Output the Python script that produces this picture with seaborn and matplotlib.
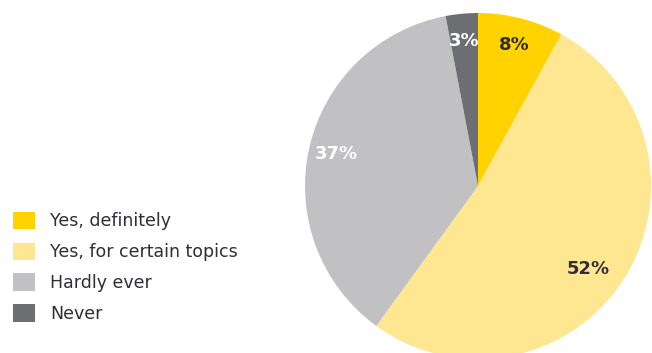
import matplotlib
matplotlib.use("Agg")
import numpy as np
import matplotlib.pyplot as plt
import matplotlib.patches as mpatches
import seaborn as sns

# Survey answer shares (percent)
categories = ["Yes, definitely", "Yes, for certain topics", "Hardly ever", "Never"]
shares = [8, 52, 37, 3]
colors = ["#FFD200", "#FFE690", "#C1C1C3", "#6D6E72"]
label_colors = ["#2E2E38", "#2E2E38", "#FFFFFF", "#FFFFFF"]

sns.set_theme(style="white")
plt.rcParams["font.family"] = ["DejaVu Sans"]

W, H = 652, 353
fig = plt.figure(figsize=(W / 100, H / 100), dpi=100)
fig.patch.set_facecolor("white")

# Pie axes positioned in pixel space: center (478, 186), radius 173
cx, cy, r = 478, 186, 173
ax = fig.add_axes([(cx - r) / W, (H - cy - r) / H, 2 * r / W, 2 * r / H])
wedges, texts = ax.pie(
    shares,
    colors=sns.color_palette(colors),
    startangle=90,
    counterclock=False,
    labels=[f"{v}%" for v in shares],
    labeldistance=0.84,
    wedgeprops=dict(linewidth=0),
    textprops=dict(fontsize=13, fontweight="bold", ha="center", va="center"),
)
for t, c in zip(texts, label_colors):
    t.set_color(c)

# Pull the large-slice label a little inward and lower along its wedge
w = wedges[1]
ang = np.deg2rad(0.5 * (w.theta1 + w.theta2) - 4.5)
texts[1].set_position((0.80 * np.cos(ang), 0.80 * np.sin(ang)))

ax.set_xlim(-1, 1)
ax.set_ylim(-1, 1)
ax.set_aspect("equal")
ax.axis("off")

# Legend on the left
handles = [mpatches.Patch(facecolor=c, edgecolor="none", label=lab)
           for c, lab in zip(colors, categories)]
fig.legend(
    handles=handles,
    loc="upper left",
    bbox_to_anchor=(-3 / W, 1 - 196 / H),
    frameon=False,
    fontsize=12.5,
    handlelength=1.3,
    handleheight=1.2,
    handletextpad=0.85,
    labelspacing=0.7,
    labelcolor="#2E2E38",
)

fig.savefig("out.png", dpi=100, facecolor="white")
